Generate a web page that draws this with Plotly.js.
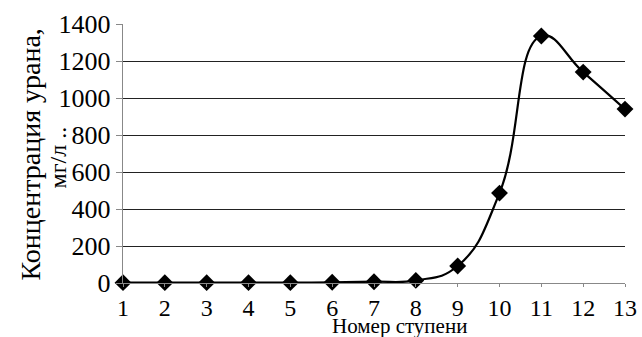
<!DOCTYPE html>
<html><head><meta charset="utf-8">
<script src="https://cdn.plot.ly/plotly-3.0.1.min.js"></script>
<style>body{margin:0;background:#fff}</style>
</head><body><div id="c" style="width:642px;height:337px"></div>
<script>
const stages = [1,2,3,4,5,6,7,8,9,10,11,12,13];
const concentration = [2,2,2,2,2,4,7,14,92,486,1335,1140,940];
const yTicks = [0,200,400,600,800,1000,1200,1400];
const fam = 'Liberation Serif, Times New Roman, DejaVu Serif, serif';
Plotly.newPlot('c', [{
  x: stages, y: concentration, type:'scatter', mode:'lines+markers',
  line:{color:'#000', width:2.2, shape:'spline', smoothing:1.3},
  marker:{symbol:'diamond', size:13, color:'#000'},
  cliponaxis:false
}], {
  width:642, height:337,
  margin:{l:123, r:17, t:24, b:54},
  paper_bgcolor:'#fff', plot_bgcolor:'#fff',
  font: {family:fam, color:'#000', size:24},
  showlegend:false,
  xaxis:{range:[1,13], tickvals:stages, ticktext:stages.map(String), showgrid:false, zeroline:false,
    showline:true, linecolor:'#888', linewidth:1.2, ticks:'outside', ticklen:3, tickcolor:'#888',
    tickfont:{family:fam, color:'#000', size:24}, fixedrange:true},
  yaxis:{range:[0,1400], tickvals:yTicks, ticktext:yTicks.map(String), showgrid:true, gridcolor:'#222', gridwidth:1,
    zeroline:false, showline:true, linecolor:'#888', linewidth:1.2, ticks:'outside', ticklen:6, tickcolor:'#888',
    tickfont:{family:fam, color:'#000', size:26}, fixedrange:true},
  annotations:[
    {text:'Номер ступени', xref:'paper', yref:'paper', x:0.55, y:0, yshift:-43, xanchor:'center', yanchor:'middle', showarrow:false, borderpad:0, font:{family:fam, color:'#000', size:21}},
    {text:'Концентрация урана,', xref:'paper', yref:'paper', x:0, xshift:-93, y:0.5, yshift:-1, textangle:-90, xanchor:'center', yanchor:'middle', showarrow:false, font:{family:fam, color:'#000', size:28}},
    {text:'мг/л ..', xref:'paper', yref:'paper', x:0, xshift:-66, y:0.5, yshift:-4, textangle:-90, xanchor:'center', yanchor:'middle', showarrow:false, font:{family:fam, color:'#000', size:24}}
  ]
}, {staticPlot:true});
</script></body></html>
